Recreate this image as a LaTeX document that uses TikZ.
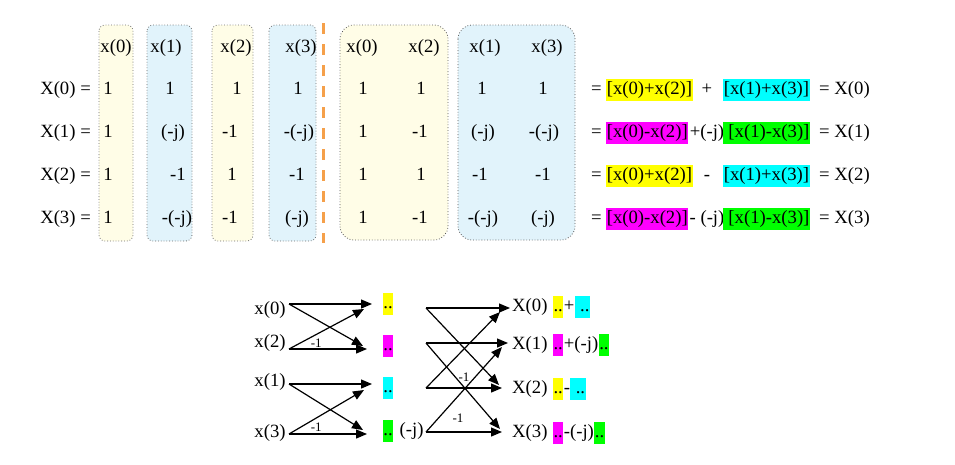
\documentclass[tikz,border=0pt]{standalone}
\usepackage{fontspec}
\setmainfont{Liberation Serif}
\usepackage{tikz}
\usetikzlibrary{arrows.meta,positioning}
\definecolor{ColYellow}{HTML}{FFFDE7}
\definecolor{ColBlue}{HTML}{E1F3FB}
\definecolor{DashOrange}{HTML}{F5A04A}
\definecolor{HlYellow}{HTML}{FFFF00}
\definecolor{HlCyan}{HTML}{00FFFF}
\definecolor{HlMagenta}{HTML}{FF00FF}
\definecolor{HlGreen}{HTML}{00FF00}

\begin{document}
\begin{tikzpicture}[
  x=1pt,y=-1pt,
  every node/.style={
    inner sep=0pt,text height=13pt,text depth=4pt,
    font=\fontsize{18.7}{22}\selectfont
  },
  hl/.style={fill=#1,inner xsep=0.6pt,text height=15.5pt,text depth=6.5pt},
  colbox/.style={draw=gray!85!black,dotted,line width=0.8pt,rounded corners=6pt,fill=#1},
  bigbox/.style={draw=gray!70!black,dotted,line width=0.8pt,rounded corners=14pt,fill=#1},
  wire/.style={draw,line width=1.2pt,-{Triangle[length=11pt,width=9pt]}},
  small/.style={font=\fontsize{13}{15}\selectfont,text height=9pt,text depth=0pt}
]
  \useasboundingbox (0,0) rectangle (955,464);

  % column boxes and the split line
  \draw[colbox=ColYellow] (99,25) rectangle (133,241);
  \draw[colbox=ColBlue] (147,25) rectangle (192,241);
  \draw[colbox=ColYellow] (212,25) rectangle (253,241);
  \draw[colbox=ColBlue] (269,25) rectangle (316,241);
  \draw[bigbox=ColYellow] (340,25) rectangle (448,240);
  \draw[bigbox=ColBlue] (458,25) rectangle (575,240);
  \draw[DashOrange,line width=3pt,dash pattern=on 11pt off 10pt] (323,23) -- (323,243);

  % headers
  \foreach \x/\t [count=\i] in {116/x(0),166/x(1),236/x(2),301/x(3),362/x(0),424/x(2),485/x(1),547/x(3)}
    \node (hd\i) at (\x,48) {\t};

  % row labels
  \foreach \r/\y in {0/90,1/133,2/176,3/219}
    \node[anchor=east] (lbl\r) at (91,\y) {X(\r) =};

  % matrix entries
  \foreach \x/\y/\t [count=\i] in {
    108/90/1, 108/133/1, 108/176/1, 108/219/1,
    170/90/1, 173/133/{(-j)}, 178/176/-1, 177/219/{-(-j)},
    237/90/1, 230/133/-1, 232/176/1, 230/219/-1,
    298/90/1, 299/133/{-(-j)}, 297/176/-1, 297/219/{(-j)},
    363/90/1, 363/133/1, 363/176/1, 363/219/1,
    421/90/1, 420/133/-1, 421/176/1, 420/219/-1,
    482/90/1, 483/133/{(-j)}, 480/176/-1, 483/219/{-(-j)},
    543/90/1, 544/133/{-(-j)}, 543/176/-1, 543/219/{(-j)}}
    \node (v\i) at (\x,\y) {\t};

  % regrouped sums
  \foreach \r/\y/\ca/\ta/\op/\cb/\tb in {
    0/90/HlYellow/{[x(0)+x(2)]}/+/HlCyan/{[x(1)+x(3)]},
    1/133/HlMagenta/{[x(0)-x(2)]}/{+(-j)}/HlGreen/{\ [x(1)-x(3)]},
    2/176/HlYellow/{[x(0)+x(2)]}/-/HlCyan/{[x(1)+x(3)]},
    3/219/HlMagenta/{[x(0)-x(2)]}/{- (-j)}/HlGreen/{\ [x(1)-x(3)]}}
  {
    \node[anchor=west] (eq\r) at (591,\y) {=};
    \node[hl=\ca,anchor=west] (pa\r) at (606,\y) {\ta};
    \node (op\r) at (707,\y) {\op};
    \node[hl=\cb,anchor=west] (pb\r) at (723,\y) {\tb};
    \node[anchor=west] (res\r) at (819,\y) {= X(\r)};
  }

  % butterfly, stage 1
  \node (in0) at (270,310) {x(0)};
  \node (in2) at (270,343) {x(2)};
  \node (in1) at (270,382) {x(1)};
  \node (in3) at (270,433) {x(3)};
  \coordinate (a0) at (289,304);
  \coordinate (a2) at (289,349);
  \coordinate (a1) at (289,384);
  \coordinate (a3) at (289,434);
  \coordinate (c0) at (372,304);
  \coordinate (c0x) at (364,309);
  \coordinate (c2) at (367,349);
  \coordinate (c2x) at (363,346);
  \coordinate (c1) at (372,384);
  \coordinate (c1x) at (364,390);
  \coordinate (c3) at (367,434);
  \coordinate (c3x) at (363,430);
  \draw[wire] (a0) -- (c0);
  \draw[wire] (a0) -- (c2x);
  \draw[wire] (a2) -- (c0x);
  \draw[wire] (a2) -- node[small,above=1pt,pos=0.35] (k0) {-1} (c2);
  \draw[wire] (a1) -- (c1);
  \draw[wire] (a1) -- (c3x);
  \draw[wire] (a3) -- (c1x);
  \draw[wire] (a3) -- node[small,above=2pt,pos=0.35] (k1) {-1} (c3);

  \node[hl=HlYellow] (m0) at (388,304) {..};
  \node[hl=HlMagenta] (m2) at (388,346) {..};
  \node[hl=HlCyan] (m1) at (388,388) {..};
  \node[hl=HlGreen] (m3) at (388,431) {..};
  \node[right=6pt of m3] (wj) {(-j)};

  % butterfly, stage 2
  \coordinate (d0) at (426,308);
  \coordinate (d2) at (426,343);
  \coordinate (d1) at (426,388);
  \coordinate (d3) at (426,432);
  \coordinate (e0) at (510,308);
  \coordinate (e0x) at (500,312);
  \coordinate (e1) at (508,343);
  \coordinate (e1x) at (502,347);
  \coordinate (e2) at (502,388);
  \coordinate (e2x) at (499,385);
  \coordinate (e3) at (502,432);
  \coordinate (e3x) at (500,429);
  \draw[wire] (d0) -- (e0);
  \draw[wire] (d0) -- (e2x);
  \draw[wire] (d2) -- (e1);
  \draw[wire] (d2) -- (e3x);
  \draw[wire] (d1) -- node[small,above=6pt,pos=0.5] (k2) {-1} (e2);
  \draw[wire] (d1) -- (e0x);
  \draw[wire] (d3) -- node[small,above=9pt,pos=0.42] (k3) {-1} (e3);
  \draw[wire] (d3) -- (e1x);

  \foreach \r/\y/\ca/\op/\cb/\tb in {
    0/307/HlYellow/+/HlCyan/{\ ..},
    1/345/HlMagenta/{+(-j)}/HlGreen/{..},
    2/389/HlYellow/-/HlCyan/{\ ..},
    3/433/HlMagenta/{-(-j)}/HlGreen/{..}}
  {
    \node[anchor=west] (out\r) at (512,\y) {X(\r)};
    \node[hl=\ca,right=5pt of out\r] (oa\r) {..};
    \node[right=0pt of oa\r] (oop\r) {\op};
    \node[hl=\cb,right=0pt of oop\r] (ob\r) {\tb};
  }
\end{tikzpicture}
\end{document}
